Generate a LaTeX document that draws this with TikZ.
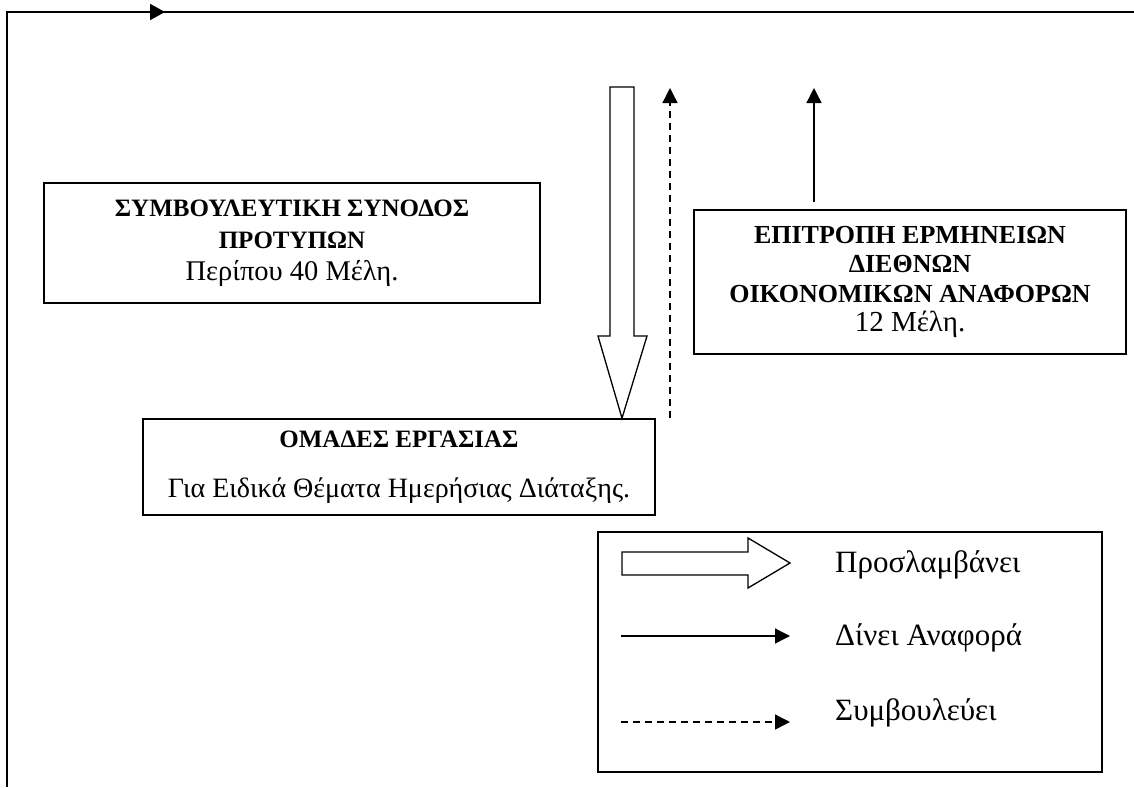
\documentclass[tikz,border=0pt]{standalone}
\usepackage{fontspec}
\setmainfont{Liberation Serif}
\usetikzlibrary{arrows.meta}
\begin{document}
\begin{tikzpicture}[x=1pt,y=-1pt,
  box/.style={draw, line width=1.6pt, align=center, inner sep=0pt},
  frame/.style={line width=2pt},
  ln/.style={line width=1.3pt},
  tipd/.style={-{Triangle[length=15pt,width=15pt]}},
  dsh/.style={dash pattern=on 7pt off 5pt},
  lgtext/.style={anchor=base west, inner sep=0pt, font=\fontsize{31}{36}\selectfont},
]
\useasboundingbox (0,0) rectangle (1134,787);
% outer frame
\coordinate (fBL) at (7,787);
\coordinate (fTL) at (7,12);
\coordinate (fTR) at (1134,12);
\coordinate (fArr) at (165,12);
\draw[frame] (fBL) -- (fTL) -- (fTR);
\draw[frame,-{Triangle[length=15pt,width=16pt]}] (fTL) -- (fArr);

% boxes
\node[box, font=\fontsize{28.5}{32}\selectfont, minimum width=496pt, minimum height=120pt] (b1) at (292,243)
  {{\fontsize{25}{32}\selectfont\bfseries ΣΥΜΒΟΥΛΕΥΤΙΚΗ ΣΥΝΟΔΟΣ}\\{\fontsize{25}{32}\selectfont\bfseries ΠΡΟΤΥΠΩΝ}\\Περίπου 40 Μέλη.};
\node[box, font=\fontsize{28}{30}\selectfont, minimum width=512pt, minimum height=96pt] (b2) at (399,467)
  {{\fontsize{25}{30}\selectfont\bfseries ΟΜΑΔΕΣ ΕΡΓΑΣΙΑΣ}\\[20pt]Για Ειδικά Θέματα Ημερήσιας Διάταξης.};
\node[box, font=\fontsize{29}{29.5}\selectfont, minimum width=432pt, minimum height=144pt] (b3) at (910,282)
  {{\fontsize{26}{29.5}\selectfont\bfseries ΕΠΙΤΡΟΠΗ ΕΡΜΗΝΕΙΩΝ}\\{\fontsize{26}{29.5}\selectfont\bfseries ΔΙΕΘΝΩΝ}\\{\fontsize{26}{29.5}\selectfont\bfseries ΟΙΚΟΝΟΜΙΚΩΝ ΑΝΑΦΟΡΩΝ}\\12 Μέλη.};
\node[box, minimum width=504pt, minimum height=240pt] (lg) at (850,652) {};

% fat arrow down to b2
\coordinate (fx) at (622,0);
\coordinate (fatTip) at (fx |- b2.north);
\draw[ln] (610,87) -- (634,87) -- (634,336) -- (647,336) -- (fatTip)
  -- (598,336) -- (610,336) -- cycle;

% dashed arrow up from b2
\coordinate (dTop) at (670,88);
\draw[ln,dsh,tipd] (dTop |- b2.north) -- (dTop);

% solid arrow up from b3
\coordinate (sTop) at (814,88);
\coordinate (sBot) at (814,202);
\draw[ln,tipd] (sBot) -- (sTop);

% legend
\draw[ln] (622,552) -- (748,552) -- (748,538) -- (790,563) -- (748,588)
  -- (748,575) -- (622,575) -- cycle;
\node[lgtext] (t1) at (835,572) {Προσλαμβάνει};
\coordinate (l2a) at (621,636);
\coordinate (l2b) at (790,636);
\draw[ln,tipd] (l2a) -- (l2b);
\node[lgtext] (t2) at (835,645) {Δίνει Αναφορά};
\coordinate (l3a) at (621,722);
\coordinate (l3b) at (790,722);
\draw[ln,dsh,tipd] (l3a) -- (l3b);
\node[lgtext] (t3) at (835,720) {Συμβουλεύει};
\end{tikzpicture}
\end{document}
